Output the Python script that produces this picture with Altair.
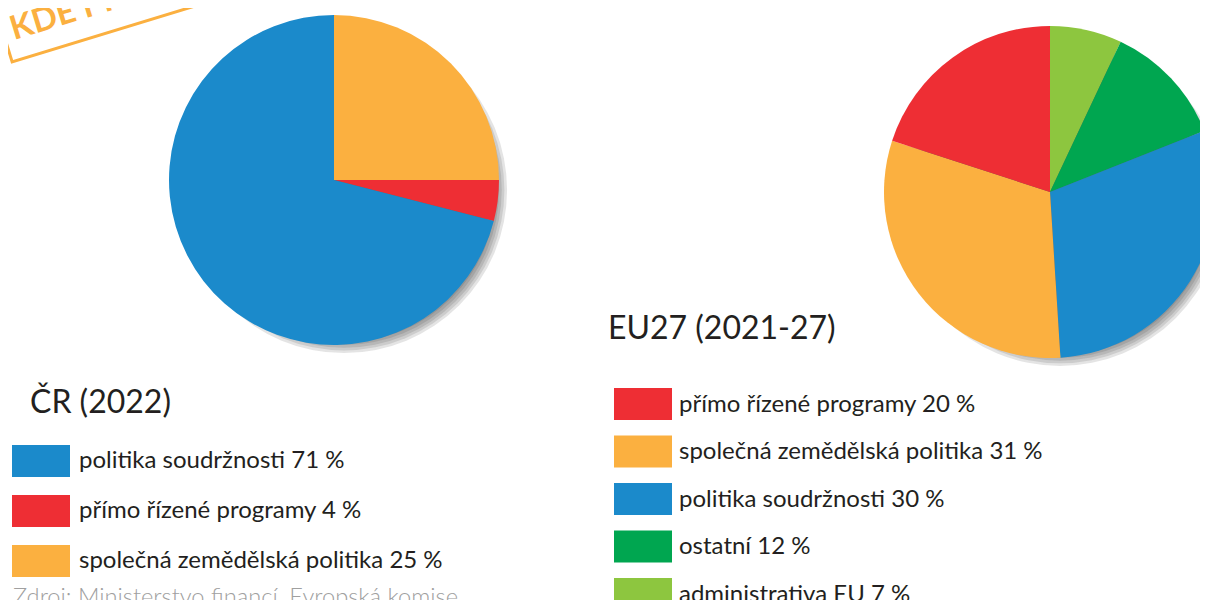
import altair as alt
import pandas as pd

# --- data ---------------------------------------------------------------
cr_kategorie = ["společná zemědělská politika", "přímo řízené programy", "politika soudržnosti"]
cr_podil = [25, 4, 71]
cr_legenda = ["politika soudržnosti", "přímo řízené programy", "společná zemědělská politika"]

eu_kategorie = ["administrativa EU", "ostatní", "politika soudržnosti",
                "společná zemědělská politika", "přímo řízené programy"]
eu_podil = [7, 12, 30, 31, 20]
eu_legenda = ["přímo řízené programy", "společná zemědělská politika",
              "politika soudržnosti", "ostatní", "administrativa EU"]

barvy_kategorie = ["politika soudržnosti", "přímo řízené programy",
                   "společná zemědělská politika", "ostatní", "administrativa EU"]
barvy = ["#1B8ACB", "#EE2E34", "#FBB040", "#00A650", "#8DC63F"]

titulky = ["ČR (2022)", "EU27 (2021-27)"]
zdroj = "Zdroj: Ministerstvo financí, Evropská komise"
razitko = "KDE PŘIDÁVÁ"

# --- tables -------------------------------------------------------------
cr_df = pd.DataFrame({"cat": cr_kategorie, "value": cr_podil, "poradi": range(len(cr_podil))})
eu_df = pd.DataFrame({"cat": eu_kategorie, "value": eu_podil, "poradi": range(len(eu_podil))})
cr_map = dict(zip(cr_kategorie, cr_podil))
eu_map = dict(zip(eu_kategorie, eu_podil))
cr_leg = pd.DataFrame({"cat": cr_legenda, "row": range(len(cr_legenda)),
                       "label": [f"{c} {cr_map[c]} %" for c in cr_legenda]})
eu_leg = pd.DataFrame({"cat": eu_legenda, "row": range(len(eu_legenda)),
                       "label": [f"{c} {eu_map[c]} %" for c in eu_legenda]})
one = pd.DataFrame({"k": [0]})

color = alt.Color("cat:N", scale=alt.Scale(domain=barvy_kategorie, range=barvy), legend=None)

FONT = "Lato"
TXT = "#231F20"
W, H = 1192, 592

layers = []

# soft drop shadows
def shadow(cx, cy, r):
    out = []
    for add in range(0, 27, 3):
        rr = r + add - 5
        out.append(alt.Chart(one).mark_circle(size=3.14159 * rr * rr, color="#222222",
                                              opacity=0.12, strokeWidth=0)
                   .encode(x=alt.value(cx + 10), y=alt.value(cy + 10)))
    return out

layers += shadow(326, 172, 165)
layers += shadow(1042, 184, 166)

# pies
layers.append(alt.Chart(cr_df).mark_arc(radius=165).encode(
    theta=alt.Theta("value:Q", stack=True), order=alt.Order("poradi:Q"), color=color,
    x=alt.value(326), y=alt.value(172)))
layers.append(alt.Chart(eu_df).mark_arc(radius=166).encode(
    theta=alt.Theta("value:Q", stack=True), order=alt.Order("poradi:Q"), color=color,
    x=alt.value(1042), y=alt.value(184)))

# legends
SW = "M-1,-0.55L1,-0.55L1,0.55L-1,0.55Z"
cr_y = alt.Y("row:Q", scale=alt.Scale(domain=[0, 2], range=[453, 553], nice=False, zero=False), axis=None)
eu_y = alt.Y("row:Q", scale=alt.Scale(domain=[0, 4], range=[396, 586], nice=False, zero=False), axis=None)

layers.append(alt.Chart(cr_leg).mark_point(shape=SW, size=3364, filled=True, opacity=1, strokeWidth=0)
              .encode(x=alt.value(33), y=cr_y, color=color))
layers.append(alt.Chart(cr_leg).mark_text(align="left", baseline="alphabetic", dy=7, font=FONT,
                                          fontSize=24, color=TXT)
              .encode(x=alt.value(71), y=cr_y, text="label:N"))
layers.append(alt.Chart(eu_leg).mark_point(shape=SW, size=3364, filled=True, opacity=1, strokeWidth=0)
              .encode(x=alt.value(635), y=eu_y, color=color))
layers.append(alt.Chart(eu_leg).mark_text(align="left", baseline="alphabetic", dy=7.5, font=FONT,
                                          fontSize=24, color=TXT)
              .encode(x=alt.value(671), y=eu_y, text="label:N"))

# titles
layers.append(alt.Chart(one).mark_text(text=titulky[0], align="left", baseline="alphabetic",
                                       font=FONT, fontSize=32, color=TXT)
              .encode(x=alt.value(22), y=alt.value(405)))
layers.append(alt.Chart(one).mark_text(text=titulky[1], align="left", baseline="alphabetic",
                                       font=FONT, fontSize=32, color=TXT)
              .encode(x=alt.value(600), y=alt.value(331)))

# stamp
layers.append(alt.Chart(one).mark_point(shape="M-1,-0.3L1,-0.3L1,0.3L-1,0.3Z", size=40000,
                                        angle=343, filled=False, stroke="#FBB040",
                                        strokeWidth=3, opacity=1)
              .encode(x=alt.value(91), y=alt.value(-4)))
layers.append(alt.Chart(one).mark_text(text=razitko, align="left", baseline="alphabetic",
                                       angle=343, font=FONT, fontWeight="bold", fontSize=33,
                                       color="#FBB040")
              .encode(x=alt.value(6), y=alt.value(32)))

# source
layers.append(alt.Chart(one).mark_text(text=zdroj, align="left", baseline="alphabetic",
                                       font=FONT, fontWeight=300, fontSize=23.7, color="#A0A0A0")
              .encode(x=alt.value(5), y=alt.value(597)))

chart = (alt.layer(*layers)
         .resolve_scale(y="independent", theta="independent")
         .properties(width=W, height=H, padding=0, autosize=alt.AutoSizeParams(type="none"),
                     background="white")
         .configure_view(stroke=None))

chart.save("out.html", embed_options={"renderer": "svg", "actions": False})
